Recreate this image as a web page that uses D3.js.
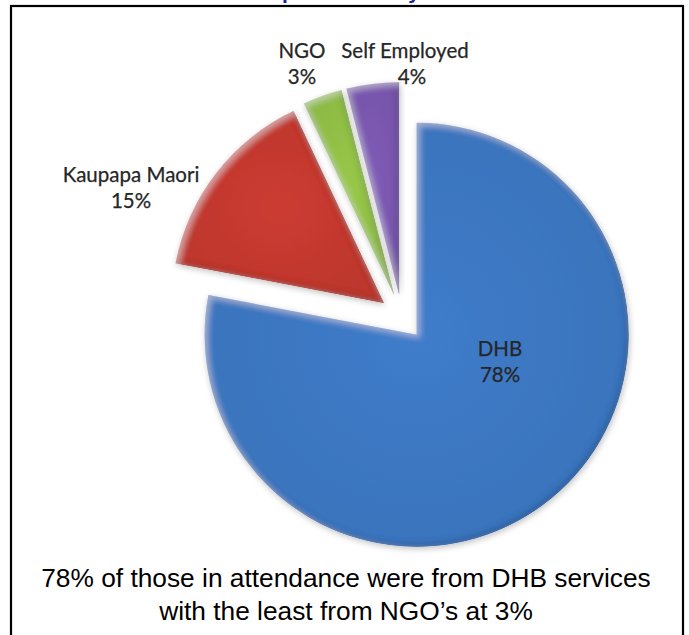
<!DOCTYPE html>
<html>
<head>
<meta charset="utf-8">
<script src="https://cdn.jsdelivr.net/npm/d3@7"></script>
<style>
  html, body { margin: 0; padding: 0; background: #fff; }
  svg { display: block; }
</style>
</head>
<body>
<svg id="chart" width="689" height="635"></svg>
<script>
// ---- data ----
const categories = ["DHB", "Kaupapa Maori", "NGO", "Self Employed"];
const values = [78, 15, 3, 4];
const titleText = "Groups Present by Sector";
const captionLines = [
  "78% of those in attendance were from DHB services",
  "with the least from NGO\u2019s at 3%"
];

// ---- styling / layout ----
const colors = ["#3c77c2", "#c3392f", "#92c046", "#7b58b0"];
const W = 689, H = 635;
const cx = 402, cy = 317, R = 212, explode = 23;
// label anchor points (centre x, first baseline)
const labelAnchors = [[500, 356], [131, 182], [302, 58], [405, 58]];
const labelSecondLineDx = [0, 0, 0, 7];

const svg = d3.select("#chart");
const defs = svg.append("defs");

// bevel + drop shadow filter
const f = defs.append("filter").attr("id", "bevel")
  .attr("x", "-10%").attr("y", "-10%").attr("width", "120%").attr("height", "120%");
f.append("feGaussianBlur").attr("in", "SourceAlpha").attr("stdDeviation", 3).attr("result", "blur");
f.append("feOffset").attr("in", "blur").attr("dx", -2.5).attr("dy", -2.5).attr("result", "offDark");
f.append("feComposite").attr("in", "SourceAlpha").attr("in2", "offDark")
  .attr("operator", "arithmetic").attr("k2", 1).attr("k3", -1).attr("result", "darkEdge");
f.append("feFlood").attr("flood-color", "#000").attr("flood-opacity", 0.4).attr("result", "darkCol");
f.append("feComposite").attr("in", "darkCol").attr("in2", "darkEdge").attr("operator", "in").attr("result", "darkShade");
f.append("feOffset").attr("in", "blur").attr("dx", 2.5).attr("dy", 2.5).attr("result", "offLight");
f.append("feComposite").attr("in", "SourceAlpha").attr("in2", "offLight")
  .attr("operator", "arithmetic").attr("k2", 1).attr("k3", -1).attr("result", "lightEdge");
f.append("feFlood").attr("flood-color", "#fff").attr("flood-opacity", 0.35).attr("result", "lightCol");
f.append("feComposite").attr("in", "lightCol").attr("in2", "lightEdge").attr("operator", "in").attr("result", "lightShade");
f.append("feOffset").attr("in", "blur").attr("dx", 1).attr("dy", 2).attr("result", "shOff");
f.append("feFlood").attr("flood-color", "#000").attr("flood-opacity", 0.25).attr("result", "shCol");
f.append("feComposite").attr("in", "shCol").attr("in2", "shOff").attr("operator", "in").attr("result", "shadow");
const m = f.append("feMerge");
m.append("feMergeNode").attr("in", "shadow");
m.append("feMergeNode").attr("in", "SourceGraphic");
m.append("feMergeNode").attr("in", "darkShade");
m.append("feMergeNode").attr("in", "lightShade");

colors.forEach((c, i) => {
  const g = defs.append("radialGradient").attr("id", "grad" + i)
    .attr("cx", "50%").attr("cy", "50%").attr("r", "60%");
  g.append("stop").attr("offset", "0%").attr("stop-color", d3.color(c).brighter(0.12));
  g.append("stop").attr("offset", "100%").attr("stop-color", d3.color(c).darker(0.12));
});

// title (cut off at the top edge, as in the reference)
svg.append("text")
  .attr("x", W / 2 + 17).attr("y", -1.5)
  .attr("text-anchor", "middle")
  .attr("font-family", "Liberation Sans, Arial, sans-serif")
  .attr("font-weight", "bold").attr("font-size", 21)
  .attr("fill", "#1c1ca0")
  .text(titleText);

// frame
svg.append("rect")
  .attr("x", 11).attr("y", 6).attr("width", 672).attr("height", 680)
  .attr("fill", "#fff").attr("stroke", "#000").attr("stroke-width", 2.2);

// pie
const pie = d3.pie().sort(null).value(d => d)(values);
const arc = d3.arc().innerRadius(0).outerRadius(R);

const slices = svg.append("g").attr("transform", `translate(${cx},${cy})`)
  .selectAll("g.slice").data(pie).join("g").attr("class", "slice")
  .attr("transform", d => {
    const a = (d.startAngle + d.endAngle) / 2;
    return `translate(${Math.sin(a) * explode},${-Math.cos(a) * explode})`;
  });

slices.append("path")
  .attr("d", arc)
  .attr("fill", (d, i) => `url(#grad${i})`)
  .attr("filter", "url(#bevel)");

// labels
const lab = svg.append("g")
  .attr("font-family", "Lato, 'Open Sans', sans-serif")
  .attr("font-size", 20.5)
  .attr("fill", "#262626")
  .attr("stroke", "#262626").attr("stroke-width", 0.25)
  .attr("text-anchor", "middle");

categories.forEach((c, i) => {
  const [x, y] = labelAnchors[i];
  lab.append("text").attr("x", x).attr("y", y).text(c);
  lab.append("text").attr("x", x + labelSecondLineDx[i]).attr("y", y + 26).text(values[i] + "%");
});

// caption
const cap = svg.append("g")
  .attr("font-family", "Liberation Sans, Arial, sans-serif")
  .attr("font-size", 26.3)
  .attr("fill", "#000")
  .attr("text-anchor", "middle");
captionLines.forEach((t, i) => {
  cap.append("text").attr("x", 346).attr("y", 587 + i * 33).text(t);
});
</script>
</body>
</html>
